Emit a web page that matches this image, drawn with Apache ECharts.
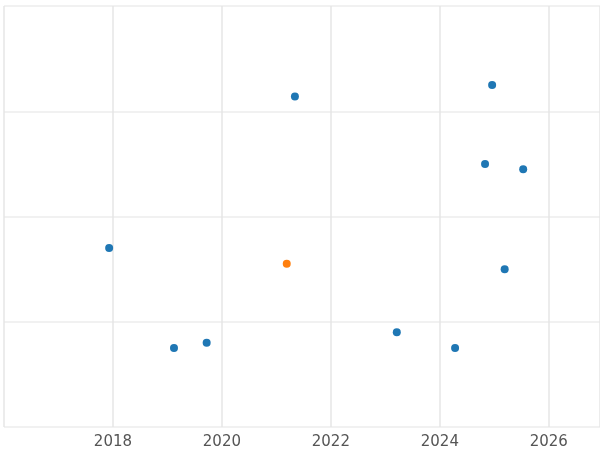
<!DOCTYPE html>
<html><head><meta charset="utf-8">
<script src="https://cdn.jsdelivr.net/npm/echarts@6/dist/echarts.min.js"></script>
<style>html,body{margin:0;padding:0;background:#fff}#c{width:600px;height:450px}</style>
</head><body><div id="c"></div>
<script>
const blueX = [2017.93, 2019.12, 2019.72, 2021.34, 2023.21, 2024.28, 2024.83, 2024.96, 2025.53, 2025.19];
const blueY = [1.70, 0.75, 0.80, 3.14, 0.90, 0.75, 2.50, 3.25, 2.45, 1.50];
const orangeX = [2021.19];
const orangeY = [1.55];
const chart = echarts.init(document.getElementById('c'));
chart.setOption({
  animation:false,
  grid:{left:4,right:0,top:6,bottom:23,containLabel:false},
  xAxis:{type:'value',min:2016,max:2026.94,interval:2,
    axisLine:{show:false},axisTick:{show:false},
    axisLabel:{showMinLabel:false,showMaxLabel:false,color:'#555',fontSize:15,fontFamily:'DejaVu Sans',margin:8,
      formatter:v=>(v%2===0&&v>2016&&v<2027)?String(v):''},
    splitLine:{lineStyle:{color:'#e6e6e6',width:1.5}}},
  yAxis:{type:'value',min:0,max:4,interval:1,
    axisLine:{show:false},axisTick:{show:false},axisLabel:{show:false},
    splitLine:{lineStyle:{color:'#ececec',width:1.5}}},
  series:[
    {type:'scatter',symbolSize:8,itemStyle:{color:'#1f77b4',opacity:1},data:blueX.map((x,i)=>[x,blueY[i]])},
    {type:'scatter',symbolSize:8,itemStyle:{color:'#ff7f0e',opacity:1},data:orangeX.map((x,i)=>[x,orangeY[i]])}
  ]
});
</script></body></html>
